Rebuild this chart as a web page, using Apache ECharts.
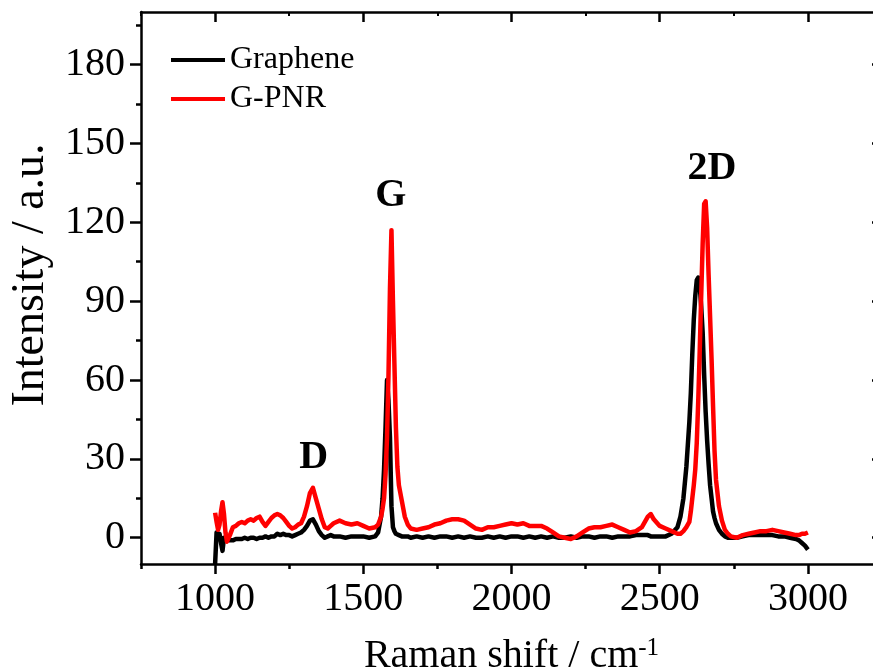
<!DOCTYPE html>
<html>
<head>
<meta charset="utf-8">
<script src="https://cdn.jsdelivr.net/npm/echarts@6/dist/echarts.min.js"></script>
<style>
  html, body { margin: 0; padding: 0; background: #fff; }
  #chart { width: 873px; height: 672px; }
</style>
</head>
<body>
<div id="chart"></div>
<script>
// Raman spectra: Graphene vs G-PNR
var ramanShift = [
  1000, 1005, 1010, 1015, 1020, 1025, 1030, 1035, 1040, 1045,
  1050, 1060, 1070, 1080, 1090, 1100, 1110, 1120, 1130, 1140,
  1150, 1160, 1170, 1180, 1190, 1200, 1210, 1220, 1230, 1240,
  1250, 1260, 1270, 1280, 1290, 1300, 1310, 1320, 1330, 1340,
  1350, 1360, 1370, 1380, 1390, 1400, 1420, 1440, 1460, 1480,
  1500, 1520, 1540, 1550, 1560, 1565, 1570, 1575, 1580, 1585,
  1590, 1595, 1600, 1605, 1610, 1615, 1620, 1630, 1640, 1650,
  1660, 1680, 1700, 1720, 1740, 1760, 1780, 1800, 1820, 1840,
  1860, 1880, 1900, 1920, 1940, 1960, 1980, 2000, 2020, 2040,
  2060, 2080, 2100, 2120, 2140, 2160, 2180, 2200, 2220, 2240,
  2260, 2280, 2300, 2320, 2340, 2360, 2380, 2400, 2420, 2440,
  2460, 2470, 2480, 2500, 2520, 2540, 2560, 2570, 2580, 2590,
  2600, 2605, 2610, 2615, 2620, 2625, 2630, 2635, 2640, 2645,
  2650, 2655, 2660, 2665, 2670, 2675, 2680, 2685, 2690, 2700,
  2710, 2720, 2730, 2740, 2760, 2780, 2800, 2820, 2840, 2860,
  2880, 2900, 2920, 2940, 2960, 2970, 2980, 2990, 3000
];
var grapheneIntensity = [
  -10, 2, 0, 1.5, -2, -5, 0, -1, 0, -0.5,
  -1, -1, -0.5, -0.5, -0.5, 0, -0.5, 0, 0, -0.5,
  0, 0, 0.5, 0, 0.5, 0.5, 1.5, 1, 1.5, 1,
  1, 0.5, 1, 1.5, 2, 3, 4.5, 6.5, 7, 5,
  2.5, 1, 0, 0.5, 1, 0.5, 0.5, 0, 0.5, 0.5,
  0.5, 0, 0.5, 2, 8, 15, 26, 42, 60, 52,
  38, 12, 4, 2.5, 1.5, 1, 1, 0.5, 0.5, 0.5,
  0, 0.5, 0, 0.5, 0, 0.5, 0.5, 0, 0.5, 0,
  0.5, 0, 0, 0.5, 0, 0.5, 0, 0.5, 0.5, 0,
  0.5, 0, 0.5, 0, 0.5, 0, 0, 0.5, 0, 0.5,
  0.5, 0, 0.5, 0.5, 0, 0.5, 0.5, 0.5, 1, 1,
  1, 0.5, 0.5, 0.5, 0.5, 1.5, 4, 8, 15, 27,
  44, 55, 70, 83, 92, 98, 99, 96, 88, 78,
  62, 48, 37, 28, 20, 15, 10, 7.5, 5.5, 3,
  1.5, 0.5, 0, 0, 0, 0.5, 1, 1, 1, 1,
  1, 0.5, 0.5, 0, -0.5, -1, -2, -3, -4.5
];
var gpnrIntensity = [
  9.5, 6, 3, 5, 10, 13.5, 9, 2, -1.5, -2,
  1, 4, 4.5, 5.5, 6, 5.5, 6.5, 7, 6.5, 7.5,
  8, 6, 4.5, 6, 7.5, 8.5, 9, 8.5, 7.5, 6,
  4.5, 3.5, 4, 5, 5.5, 8, 12, 17, 19, 15,
  11, 7, 4, 3.5, 4.5, 5.5, 6.5, 5.5, 5, 5.5,
  4.5, 3.5, 4, 5, 8, 11, 15, 24, 38, 62,
  95, 117, 90, 66, 42, 27, 20, 14, 8, 5,
  3.5, 3, 3.5, 4, 5, 5.5, 6.5, 7, 7, 6.5,
  5, 3.5, 3, 4, 4, 4.5, 5, 5.5, 5, 5.5,
  4.5, 4.5, 4.5, 3.5, 2, 0.5, 0, -0.5, 0.5, 2,
  3.5, 4, 4, 4.5, 5, 4, 3, 2, 2.5, 4,
  8, 9, 7, 4.5, 3.5, 2.5, 1.5, 1.5, 2.5, 4,
  6, 10, 15, 20, 26, 36, 52, 71, 92, 112,
  127, 128, 118, 100, 84, 68, 50, 33, 22, 12,
  6.5, 3, 1.5, 0.5, 0, 1, 1.5, 2, 2.5, 2.5,
  3, 2.5, 2, 1.5, 1, 1, 1.5, 1.5, 2
];

// axis ticks
var xMajorTicks = [1000, 1500, 2000, 2500, 3000];
var xMinorTicks = [750, 1250, 1750, 2250, 2750, 3250];
var yMajorTicks = [0, 30, 60, 90, 120, 150, 180];
var yMinorTicks = [15, 45, 75, 105, 135, 165, 195];

// peak labels
var peakNames = ['D', 'G', '2D'];
var peakShift = [1333, 1593, 2676];
var peakHeight = [30.5, 130, 140.5];

var serif = '"Liberation Serif", "Times New Roman", serif';
var ink = '#000';

function pairs(xs, ys) {
  return xs.map(function(x, i) { return [x, ys[i]]; });
}
function plain(v) { return String(v); }

var chart = echarts.init(document.getElementById('chart'), null, { renderer: 'canvas' });

var xBase = { type: 'value', min: 750, max: 3250, gridIndex: 0, splitLine: { show: false } };
var yBase = { type: 'value', min: -10, max: 200, gridIndex: 0, splitLine: { show: false } };
var line = function(w) { return { color: ink, width: w }; };

chart.setOption({
  animation: false,
  backgroundColor: '#fff',
  grid: { left: 141, top: 12, width: 741, height: 552, outerBoundsMode: 'none', containLabel: false },
  legend: {
    left: 166, top: 39,
    orient: 'vertical',
    itemWidth: 54, itemHeight: 4, itemGap: 7,
    icon: 'rect',
    textStyle: { fontFamily: serif, fontSize: 32, color: ink },
    data: ['Graphene', 'G-PNR']
  },
  xAxis: [
    Object.assign({}, xBase, {
      position: 'bottom',
      name: 'Raman shift / cm{sup|-1}',
      nameLocation: 'middle',
      nameGap: 72,
      nameTextStyle: {
        fontFamily: serif, fontSize: 40, color: ink,
        rich: { sup: { fontFamily: serif, fontSize: 25, color: ink, verticalAlign: 'top', padding: [0, 0, 15, 0] } }
      },
      axisLine: { onZero: false, lineStyle: line(2.5) },
      axisTick: { customValues: xMajorTicks, length: 10, lineStyle: line(2.5) },
      axisLabel: { customValues: xMajorTicks, formatter: plain, margin: 15, fontFamily: serif, fontSize: 40, color: ink }
    }),
    Object.assign({}, xBase, {
      position: 'bottom',
      axisLine: { show: false, onZero: false },
      axisTick: { customValues: xMinorTicks, length: 5, lineStyle: line(2.5) },
      axisLabel: { show: false }
    }),
    Object.assign({}, xBase, {
      position: 'top',
      axisLine: { onZero: false, lineStyle: line(2.5) },
      axisTick: { inside: true, customValues: xMajorTicks, length: 10, lineStyle: line(2.5) },
      axisLabel: { show: false }
    }),
    Object.assign({}, xBase, {
      position: 'top',
      axisLine: { show: false, onZero: false },
      axisTick: { inside: true, customValues: xMinorTicks, length: 4, lineStyle: line(2) },
      axisLabel: { show: false }
    })
  ],
  yAxis: [
    Object.assign({}, yBase, {
      position: 'left',
      name: 'Intensity / a.u.',
      nameLocation: 'middle',
      nameGap: 87,
      nameTextStyle: { fontFamily: serif, fontSize: 46, color: ink, padding: [0, 0, 0, 26] },
      axisLine: { onZero: false, lineStyle: line(2.5) },
      axisTick: { customValues: yMajorTicks, length: 11, lineStyle: line(2.5) },
      axisLabel: { customValues: yMajorTicks, formatter: plain, margin: 16, fontFamily: serif, fontSize: 40, color: ink }
    }),
    Object.assign({}, yBase, {
      position: 'left',
      axisLine: { show: false, onZero: false },
      axisTick: { customValues: yMinorTicks, length: 5, lineStyle: line(2.5) },
      axisLabel: { show: false }
    }),
    Object.assign({}, yBase, {
      position: 'right',
      axisLine: { onZero: false, lineStyle: line(2.5) },
      axisTick: { inside: true, customValues: yMajorTicks, length: 10, lineStyle: line(2.5) },
      axisLabel: { show: false }
    })
  ],
  series: [
    {
      name: 'Graphene',
      type: 'line',
      xAxisIndex: 0, yAxisIndex: 0,
      showSymbol: false,
      color: '#000000',
      lineStyle: { width: 4.5, color: '#000000', join: 'round' },
      data: pairs(ramanShift, grapheneIntensity)
    },
    {
      name: 'G-PNR',
      type: 'line',
      xAxisIndex: 0, yAxisIndex: 0,
      showSymbol: false,
      color: '#ff0000',
      lineStyle: { width: 4.5, color: '#ff0000', join: 'round' },
      data: pairs(ramanShift, gpnrIntensity)
    },
    {
      name: 'peaks',
      type: 'scatter',
      xAxisIndex: 0, yAxisIndex: 0,
      symbolSize: 0,
      silent: true,
      itemStyle: { opacity: 1 },
      label: {
        show: true,
        position: 'inside',
        formatter: function(p) { return p.value[2]; },
        fontFamily: serif, fontSize: 40, fontWeight: 'bold', color: '#000', opacity: 1, textBorderWidth: 0
      },
      data: peakNames.map(function(n, i) { return [peakShift[i], peakHeight[i], n]; })
    }
  ]
});
</script>
</body>
</html>
